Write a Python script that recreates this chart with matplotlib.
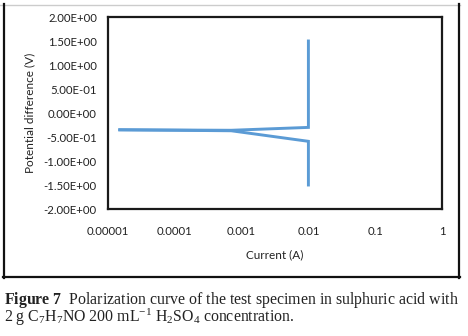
import matplotlib
matplotlib.use("Agg")
import matplotlib.pyplot as plt
from matplotlib.lines import Line2D
from matplotlib.ticker import FixedLocator, FixedFormatter, NullLocator

plt.rcParams['mathtext.fontset'] = 'custom'
plt.rcParams['mathtext.rm'] = 'Liberation Serif'
plt.rcParams['mathtext.bf'] = 'Liberation Serif:bold'
plt.rcParams['mathtext.it'] = 'Liberation Serif:italic'

# Data
anodic_current = [1.5e-5, 7e-4, 0.01, 0.01]
anodic_potential = [-0.35, -0.36, -0.30, 1.50]
cathodic_current = [1.5e-5, 7e-4, 0.01, 0.01]
cathodic_potential = [-0.35, -0.37, -0.59, -1.50]

x_ticks = [1e-5, 1e-4, 1e-3, 1e-2, 1e-1, 1]
x_tick_labels = ["0.00001", "0.0001", "0.001", "0.01", "0.1", "1"]
y_ticks = [-2.0, -1.5, -1.0, -0.5, 0.0, 0.5, 1.0, 1.5, 2.0]
y_tick_labels = ["-2.00E+00", "-1.50E+00", "-1.00E+00", "-5.00E-01", "0.00E+00",
                 "5.00E-01", "1.00E+00", "1.50E+00", "2.00E+00"]

W, H = 468, 336
fig = plt.figure(figsize=(W / 100, H / 100), dpi=100)
fig.patch.set_facecolor("white")

ax = fig.add_axes([108 / W, 1 - 209 / H, (442 - 108) / W, (209 - 17) / H])
color = "#5B9BD5"
ax.plot(anodic_current, anodic_potential, color=color, lw=2.1, solid_joinstyle="miter")
ax.plot(cathodic_current, cathodic_potential, color=color, lw=2.1, solid_joinstyle="miter")
ax.set_xscale("log")
ax.set_xlim(1e-5, 1)
ax.set_ylim(-2, 2)
ax.xaxis.set_major_locator(FixedLocator(x_ticks))
ax.xaxis.set_major_formatter(FixedFormatter(x_tick_labels))
ax.xaxis.set_minor_locator(NullLocator())
ax.yaxis.set_major_locator(FixedLocator(y_ticks))
ax.yaxis.set_major_formatter(FixedFormatter(y_tick_labels))
ax.tick_params(length=0, labelsize=8.2, colors="#222222")
ax.tick_params(axis="x", pad=12)
ax.tick_params(axis="y", pad=8)
for lab in ax.get_xticklabels() + ax.get_yticklabels():
    lab.set_fontfamily("Lato")
for sp in ax.spines.values():
    sp.set_linewidth(1.6)
    sp.set_color("#1a1a1a")

ax.set_xlabel("Current (A)", fontfamily="Lato", fontsize=8.5, labelpad=9, color="#222222")
ax.set_ylabel("Potential difference (V)", fontfamily="Lato", fontsize=8.5, labelpad=6, color="#222222")

# outer frame of the chart screenshot
def fl(x0, y0, x1, y1, c, lw):
    fig.add_artist(Line2D([x0 / W, x1 / W], [1 - y0 / H, 1 - y1 / H],
                          transform=fig.transFigure, color=c, lw=lw))
fl(0, 4.5, 460, 4.5, "#cccccc", 1.0)
fl(4, 4, 4, 277.5, "#111111", 1.6)
fl(459, 4, 459, 277.5, "#111111", 1.6)
fl(3, 277, 460, 277, "#111111", 1.6)

# caption
caption = (r"$\mathbf{Figure\ 7}$  Polarization curve of the test specimen in sulphuric acid with" "\n"
           r"2 g C$_7$H$_7$NO 200 mL$^{-1}$ H$_2$SO$_4$ concentration.")
fig.text(4 / W, 1 - 328 / H, caption,
         fontfamily="Liberation Serif", fontsize=11.4, color="#222222",
         va="bottom", linespacing=0.77)

fig.savefig("out.png", dpi=100)
